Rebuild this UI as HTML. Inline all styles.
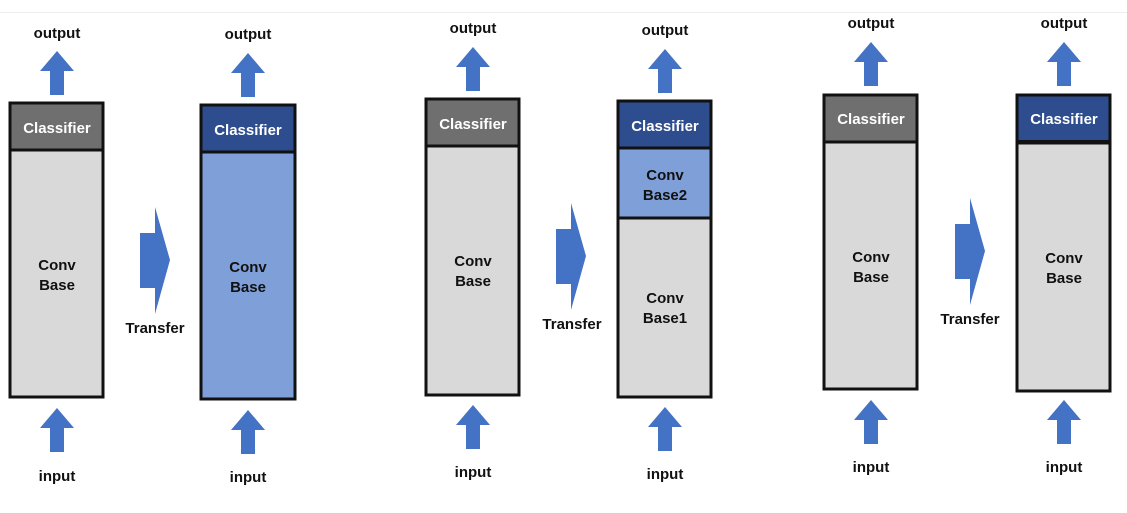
<!DOCTYPE html>
<html><head><style>
html,body{margin:0;padding:0;background:#fff;}
svg{display:block;}
text{font-family:"Liberation Sans",sans-serif;font-weight:bold;font-size:15px;text-anchor:middle;}
</style></head><body>
<svg width="1127" height="513" viewBox="0 0 1127 513">
<rect x="0" y="12" width="1127" height="1" fill="#eeeeee"/>
<defs>
<g id="up"><polygon points="0,0 17,20 7,20 7,44 -7,44 -7,20 -17,20" fill="#4472c4"/></g>
<g id="rt"><polygon points="0,26 15,26 15,0 30,53 15,107 15,81 0,81" fill="#4472c4"/></g>
</defs>
<g stroke="#111" stroke-width="3">
<!-- panel1 -->
<rect x="10" y="150" width="93" height="247" fill="#d9d9d9"/>
<rect x="10" y="103" width="93" height="47" fill="#6f6f6f"/>
<rect x="201" y="152" width="94" height="247" fill="#7f9fd8"/>
<rect x="201" y="105" width="94" height="47" fill="#2e4d8e"/>
<!-- panel2 -->
<rect x="426" y="146" width="93" height="249" fill="#d9d9d9"/>
<rect x="426" y="99" width="93" height="47" fill="#6f6f6f"/>
<rect x="618" y="218" width="93" height="179" fill="#d9d9d9"/>
<rect x="618" y="148" width="93" height="70" fill="#7f9fd8"/>
<rect x="618" y="101" width="93" height="47" fill="#2e4d8e"/>
<!-- panel3 -->
<rect x="824" y="142" width="93" height="247" fill="#d9d9d9"/>
<rect x="824" y="95" width="93" height="47" fill="#6f6f6f"/>
<rect x="1017" y="143" width="93" height="248" fill="#d9d9d9"/>
<rect x="1017" y="95" width="93" height="47" fill="#2e4d8e"/>
</g>
<rect x="1017" y="140" width="93" height="4" fill="#111"/>
<!-- up arrows -->
<use href="#up" x="57" y="51"/><use href="#up" x="57" y="408"/>
<use href="#up" x="248" y="53"/><use href="#up" x="248" y="410"/>
<use href="#up" x="473" y="47"/><use href="#up" x="473" y="405"/>
<use href="#up" x="665" y="49"/><use href="#up" x="665" y="407"/>
<use href="#up" x="871" y="42"/><use href="#up" x="871" y="400"/>
<use href="#up" x="1064" y="42"/><use href="#up" x="1064" y="400"/>
<!-- transfer arrows -->
<use href="#rt" x="140" y="207"/>
<use href="#rt" x="556" y="203"/>
<use href="#rt" x="955" y="198"/>
<g fill="#111">
<text x="57" y="38">output</text><text x="57" y="481">input</text>
<text x="248" y="39">output</text><text x="248" y="482">input</text>
<text x="473" y="33">output</text><text x="473" y="477">input</text>
<text x="665" y="35">output</text><text x="665" y="479">input</text>
<text x="871" y="28">output</text><text x="871" y="472">input</text>
<text x="1064" y="28">output</text><text x="1064" y="472">input</text>
<text x="155" y="333">Transfer</text>
<text x="572" y="329">Transfer</text>
<text x="970" y="324">Transfer</text>
<text x="57" y="270">Conv</text><text x="57" y="290">Base</text>
<text x="248" y="272">Conv</text><text x="248" y="292">Base</text>
<text x="473" y="266">Conv</text><text x="473" y="286">Base</text>
<text x="665" y="180">Conv</text><text x="665" y="200">Base2</text>
<text x="665" y="303">Conv</text><text x="665" y="323">Base1</text>
<text x="871" y="262">Conv</text><text x="871" y="282">Base</text>
<text x="1064" y="263">Conv</text><text x="1064" y="283">Base</text>
</g>
<g fill="#fff">
<text x="57" y="133">Classifier</text>
<text x="248" y="135">Classifier</text>
<text x="473" y="129">Classifier</text>
<text x="665" y="131">Classifier</text>
<text x="871" y="124">Classifier</text>
<text x="1064" y="124">Classifier</text>
</g>
</svg>
</body></html>
